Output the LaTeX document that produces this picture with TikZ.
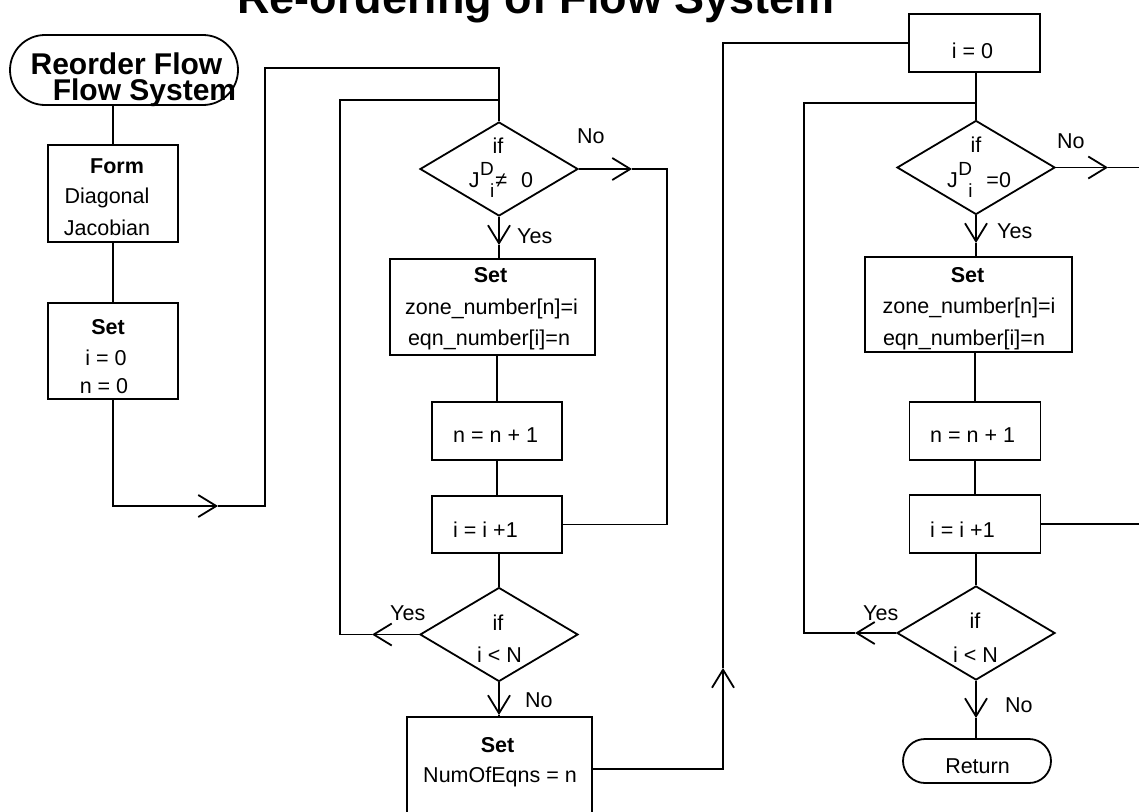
\documentclass[tikz,border=0pt]{standalone}
\usepackage{fontspec}
\setmainfont{Liberation Sans}
\usetikzlibrary{arrows.meta,shapes.geometric,shapes.misc}

\newcommand{\bodyfont}{\fontsize{21.5}{26}\selectfont}
% J with superscript D and subscript i stacked
\newcommand{\jdi}{J\hspace{0.5pt}\rlap{\raisebox{12pt}{\fontsize{19}{19}\selectfont D}}\hspace{10pt}\raisebox{-10pt}{\fontsize{19}{19}\selectfont i}}

\begin{document}
\begin{tikzpicture}[x=1pt,y=-1pt,
  line/.style={line width=1.8pt},
  box/.style={draw, line width=1.8pt, rectangle, inner sep=0pt},
  dia/.style={draw, line width=1.8pt, diamond, inner sep=0pt, minimum width=158pt, minimum height=94pt},
  term/.style={draw, line width=1.8pt, rounded rectangle, inner sep=0pt},
  txt/.style={inner sep=0pt, anchor=base, font=\bodyfont},
  btxt/.style={inner sep=0pt, anchor=base, font=\bodyfont\bfseries},
  tip/.style={-{Straight Barb[length=18pt,width=22pt]}},
]
\useasboundingbox (0,0) rectangle (1139,811);
\clip (0,0) rectangle (1139,811);

% title
\node[inner sep=0pt, anchor=base, font=\fontsize{45}{45}\selectfont\bfseries] (title) at (536,13) {Re-ordering of Flow System};

% ---- first column ----
\node[term, minimum width=228pt, minimum height=70pt] (start) at (124,70) {};
\node[inner sep=0pt, anchor=base, font=\fontsize{30}{30}\selectfont\bfseries] (st1) at (126.5,74) {Reorder Flow};
\node[inner sep=0pt, anchor=base, font=\fontsize{30}{30}\selectfont\bfseries] (st2) at (144.5,100) {Flow System};

\node[box, minimum width=130pt, minimum height=97pt] (form) at (113,193.5) {};
\node[btxt] (form1) at (117,173) {Form};
\node[txt] (form2) at (107,203) {Diagonal};
\node[txt] (form3) at (107,235) {Jacobian};

\node[box, minimum width=130pt, minimum height=96pt] (set1) at (113,351) {};
\node[btxt] (set1a) at (108,334) {Set};
\node[txt] (set1b) at (106,365) {i = 0};
\node[txt] (set1c) at (104,393) {n = 0};

% ---- second column ----
\node[dia] (d1) at (499,169) {};
\node[txt] (d1a) at (498,153) {if};
\node[txt] (d1b) at (501,187) {\jdi\hspace{1pt}≠\hspace{14pt}0};

\node[box, minimum width=205pt, minimum height=96pt] (set2) at (492.5,307) {};
\node[btxt] (set2a) at (490.5,282) {Set};
\node[txt] (set2b) at (491.5,314) {zone\_number[n]=i};
\node[txt] (set2c) at (489,345) {eqn\_number[i]=n};

\node[box, minimum width=130pt, minimum height=58pt] (n1) at (497,431) {};
\node[txt, anchor=base west] (n1t) at (453,442) {n = n + 1};
\node[box, minimum width=130pt, minimum height=57pt] (i1) at (497,524.5) {};
\node[txt, anchor=base west] (i1t) at (453,537) {i = i +1};

\node[dia] (d2) at (499,634.5) {};
\node[txt] (d2a) at (498,630) {if};
\node[txt] (d2b) at (499.5,662) {i < N};

\node[box, minimum width=185pt, minimum height=104pt] (set3) at (499.5,769) {};
\node[btxt] (set3a) at (497.5,752) {Set};
\node[txt] (set3b) at (500,782) {NumOfEqns = n};

% ---- third column ----
\node[box, minimum width=131pt, minimum height=58pt] (i0) at (974.5,43) {};
\node[txt] (i0t) at (972.5,58) {i = 0};

\node[dia] (d3) at (976,167.5) {};
\node[txt] (d3a) at (976,152) {if};
\node[txt] (d3b) at (979,187) {\jdi\hspace{14pt}=0};

\node[box, minimum width=207pt, minimum height=95pt] (set4) at (968.5,304.5) {};
\node[btxt] (set4a) at (967.5,282) {Set};
\node[txt] (set4b) at (969,313) {zone\_number[n]=i};
\node[txt] (set4c) at (964,345) {eqn\_number[i]=n};

\node[box, minimum width=131pt, minimum height=58pt] (n2) at (975,431) {};
\node[txt, anchor=base west] (n2t) at (930,442) {n = n + 1};
\node[box, minimum width=131pt, minimum height=58pt] (i2) at (975,524) {};
\node[txt, anchor=base west] (i2t) at (930,537) {i = i +1};

\node[dia] (d4) at (976,633) {};
\node[txt] (d4a) at (975,628) {if};
\node[txt] (d4b) at (975.5,662) {i < N};

\node[term, minimum width=148pt, minimum height=44pt] (ret) at (977,761) {};
\node[txt] (rett) at (977.5,773) {Return};

% branch labels
\node[txt, anchor=base west] (l1) at (577,143) {No};
\node[txt, anchor=base west] (l2) at (517,243) {Yes};
\node[txt, anchor=base west] (l3) at (390,620) {Yes};
\node[txt, anchor=base west] (l4) at (525,707) {No};
\node[txt, anchor=base west] (l5) at (1057,148) {No};
\node[txt, anchor=base west] (l6) at (997,238) {Yes};
\node[txt, anchor=base west] (l7) at (863,620) {Yes};
\node[txt, anchor=base west] (l8) at (1005,712) {No};

% bend points and arrow positions
\coordinate (a1) at (218,506);
\coordinate (c1) at (265,506);
\coordinate (top1) at (499,68);
\coordinate (j1) at (499,100);
\coordinate (a2) at (632,169);
\coordinate (r1) at (667,169);
\coordinate (a3) at (499,245);
\coordinate (a4) at (372,634.5);
\coordinate (L1) at (340,634.5);
\coordinate (a5) at (499,715);
\coordinate (a6) at (723,668);
\coordinate (a7) at (1108,167.5);
\coordinate (e3) at (1139,167.5);
\coordinate (a8) at (976,243);
\coordinate (e4) at (1139,524);
\coordinate (a9) at (855,633);
\coordinate (L3) at (804,633);
\coordinate (j3) at (976,103);
\coordinate (a10) at (976,718);

% connectors: first column
\draw[line] (form.north) -- (form.north |- start.south);
\draw[line] (form.south) -- (set1.north);
\draw[line,tip] (set1.south) |- (a1);
\draw[line] (a1) -- (c1) |- (top1) -- (d1.north);

% connectors: second column
\draw[line,tip] (d1.east) -- (a2);
\draw[line] (a2) -- (r1) |- (i1.east);
\draw[line,tip] (d1.south) -- (a3);
\draw[line] (a3) -- (a3 |- set2.north);
\draw[line] (n1.north) -- (n1.north |- set2.south);
\draw[line] (n1.south) -- (i1.north);
\draw[line] (d2.north) -- (d2.north |- i1.south);
\draw[line,tip] (d2.west) -- (a4);
\draw[line] (a4) -- (L1) |- (j1);
\draw[line,tip] (d2.south) -- (a5);
\draw[line] (a5) -- (a5 |- set3.north);
\draw[line,tip] (set3.east) -| (a6);
\draw[line] (a6) |- (i0.west);

% connectors: third column
\draw[line] (d3.north) -- (d3.north |- i0.south);
\draw[line,tip] (d3.east) -- (a7);
\draw[line] (a7) -- (e3);
\draw[line,tip] (d3.south) -- (a8);
\draw[line] (a8) -- (a8 |- set4.north);
\draw[line] (n2.north) -- (n2.north |- set4.south);
\draw[line] (n2.south) -- (i2.north);
\draw[line] (i2.east) -- (e4);
\draw[line] (d4.north) -- (d4.north |- i2.south);
\draw[line,tip] (d4.west) -- (a9);
\draw[line] (a9) -- (L3) |- (j3);
\draw[line,tip] (d4.south) -- (a10);
\draw[line] (a10) -- (a10 |- ret.north);
\end{tikzpicture}
\end{document}
